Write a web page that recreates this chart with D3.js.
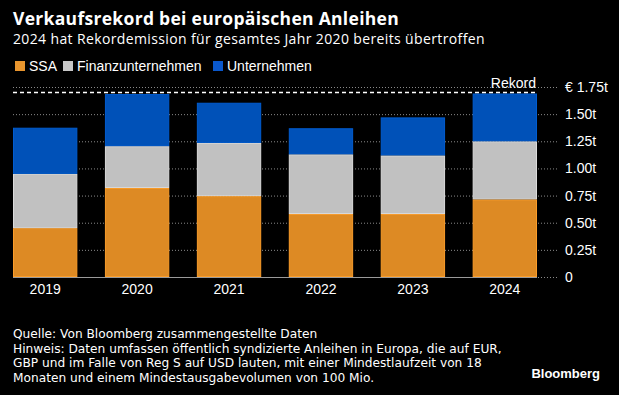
<!DOCTYPE html>
<html>
<head>
<meta charset="utf-8">
<script src="https://cdn.jsdelivr.net/npm/d3@7"></script>
<style>
  body { margin: 0; background: #000; }
  svg { display: block; font-family: "Open Sans", "Liberation Sans", Arial, sans-serif; }
</style>
</head>
<body>
<script>
// data (trillions of EUR)
var years = ['2019', '2020', '2021', '2022', '2023', '2024'];
var ssa = [0.45, 0.82, 0.745, 0.58, 0.58, 0.715];
var finanz = [0.50, 0.385, 0.49, 0.55, 0.54, 0.535];
var unternehmen = [0.425, 0.48, 0.37, 0.24, 0.35, 0.44];
var seriesNames = ['SSA', 'Finanzunternehmen', 'Unternehmen'];
var yTicks = [0, 0.25, 0.5, 0.75, 1.0, 1.25, 1.5, 1.75];
var rekord = 1.70;

var colors = ['#dd8a24', '#c1c1c1', '#0051b8'];
var legendColors = ['#e8952e', '#c8c8c8', '#0a58cc'];
var narrow = '"Liberation Sans", Arial, sans-serif';

var width = 619, height = 395;
var svg = d3.select('body').append('svg')
  .attr('width', width)
  .attr('height', height);

svg.append('rect').attr('width', width).attr('height', height).attr('fill', '#000');

// titles
svg.append('text')
  .attr('x', 13).attr('y', 25)
  .attr('fill', '#fff')
  .attr('font-size', 17.5)
  .attr('font-weight', 'bold')
  .attr('letter-spacing', 0.3)
  .text('Verkaufsrekord bei europäischen Anleihen');

svg.append('text')
  .attr('x', 13).attr('y', 43.5)
  .attr('fill', '#fff')
  .attr('font-size', 14)
  .attr('letter-spacing', 0.37)
  .text('2024 hat Rekordemission für gesamtes Jahr 2020 bereits übertroffen');

// legend
var legendX = [15, 63, 213];
var legend = svg.append('g');
seriesNames.forEach(function(name, i) {
  legend.append('rect')
    .attr('x', legendX[i]).attr('y', 61)
    .attr('width', 10).attr('height', 10)
    .attr('fill', legendColors[i]);
  legend.append('text')
    .attr('x', legendX[i] + 14).attr('y', 70.5)
    .attr('fill', '#fff')
    .attr('font-size', 14)
    .attr('font-family', narrow)
    .text(name);
});

// scales
var x = d3.scaleBand()
  .domain(years)
  .range([13, 537])
  .paddingInner(0.3)
  .paddingOuter(0);

var y = d3.scaleLinear()
  .domain([0, 1.75])
  .range([277, 87]);

// gridlines
var grid = svg.append('g');
grid.selectAll('line')
  .data(yTicks)
  .enter().append('line')
  .attr('x1', 13).attr('x2', 558)
  .attr('y1', function(d) { return y(d) + 0.5; })
  .attr('y2', function(d) { return y(d) + 0.5; })
  .attr('stroke', '#8a8a8a')
  .attr('stroke-width', 1)
  .attr('stroke-dasharray', '1,2');

// stacked bars
var table = years.map(function(yr, i) {
  return { year: yr, SSA: ssa[i], Finanzunternehmen: finanz[i], Unternehmen: unternehmen[i] };
});
var stacked = d3.stack().keys(seriesNames)(table);

svg.append('g').selectAll('g')
  .data(stacked)
  .enter().append('g')
  .attr('fill', function(d, i) { return colors[i]; })
  .attr('stroke', function(d, i) { return d3.color(colors[i]).brighter(0.35); })
  .attr('stroke-width', 1)
  .selectAll('rect')
  .data(function(d) { return d; })
  .enter().append('rect')
  .attr('x', function(d) { return x(d.data.year) + 0.5; })
  .attr('y', function(d) { return y(d[1]) + 0.5; })
  .attr('width', x.bandwidth() - 1)
  .attr('height', function(d) { return y(d[0]) - y(d[1]) - 1; });

// baseline
svg.append('line')
  .attr('x1', 13).attr('x2', 537)
  .attr('y1', y(0) + 0.5).attr('y2', y(0) + 0.5)
  .attr('stroke', '#9a9a9a')
  .attr('stroke-width', 1.2);

// record line
svg.append('line')
  .attr('x1', 13).attr('x2', 537)
  .attr('y1', y(rekord)).attr('y2', y(rekord))
  .attr('stroke', '#fff')
  .attr('stroke-width', 1.4)
  .attr('stroke-dasharray', '4,3');

svg.append('text')
  .attr('x', 536).attr('y', y(rekord) - 4.5)
  .attr('text-anchor', 'end')
  .attr('fill', '#fff')
  .attr('font-size', 14)
  .attr('font-family', narrow)
  .text('Rekord');

// x axis
var xAxis = svg.append('g')
  .attr('transform', 'translate(0,' + y(0) + ')')
  .call(d3.axisBottom(x).tickSize(0).tickPadding(7));
xAxis.select('.domain').remove();
xAxis.selectAll('text')
  .attr('fill', '#fff')
  .attr('font-size', 14)
  .attr('font-family', narrow);

// y axis (labels on the right)
var yAxis = svg.append('g')
  .attr('transform', 'translate(565,0)')
  .call(d3.axisRight(y).tickValues(yTicks).tickSize(0).tickPadding(0)
    .tickFormat(function(d) {
      if (d === 0) return '0';
      var s = d.toFixed(2) + 't';
      return d === 1.75 ? '€ ' + s : s;
    }));
yAxis.select('.domain').remove();
yAxis.selectAll('text')
  .attr('fill', '#fff')
  .attr('font-size', 14)
  .attr('font-family', narrow);

// footer
var notes = [
  'Quelle: Von Bloomberg zusammengestellte Daten',
  'Hinweis: Daten umfassen öffentlich syndizierte Anleihen in Europa, die auf EUR,',
  'GBP und im Falle von Reg S auf USD lauten, mit einer Mindestlaufzeit von 18',
  'Monaten und einem Mindestausgabevolumen von 100 Mio.'
];
svg.append('g').selectAll('text')
  .data(notes)
  .enter().append('text')
  .attr('x', 13)
  .attr('y', function(d, i) { return 338 + i * 14.5; })
  .attr('fill', '#fff')
  .attr('font-size', 12.2)
  .attr('font-family', '"DejaVu Sans", sans-serif')
  .text(function(d) { return d; });

svg.append('text')
  .attr('x', 600).attr('y', 378)
  .attr('text-anchor', 'end')
  .attr('fill', '#fff')
  .attr('font-size', 13)
  .attr('font-weight', 'bold')
  .attr('font-family', narrow)
  .text('Bloomberg');
</script>
</body>
</html>
